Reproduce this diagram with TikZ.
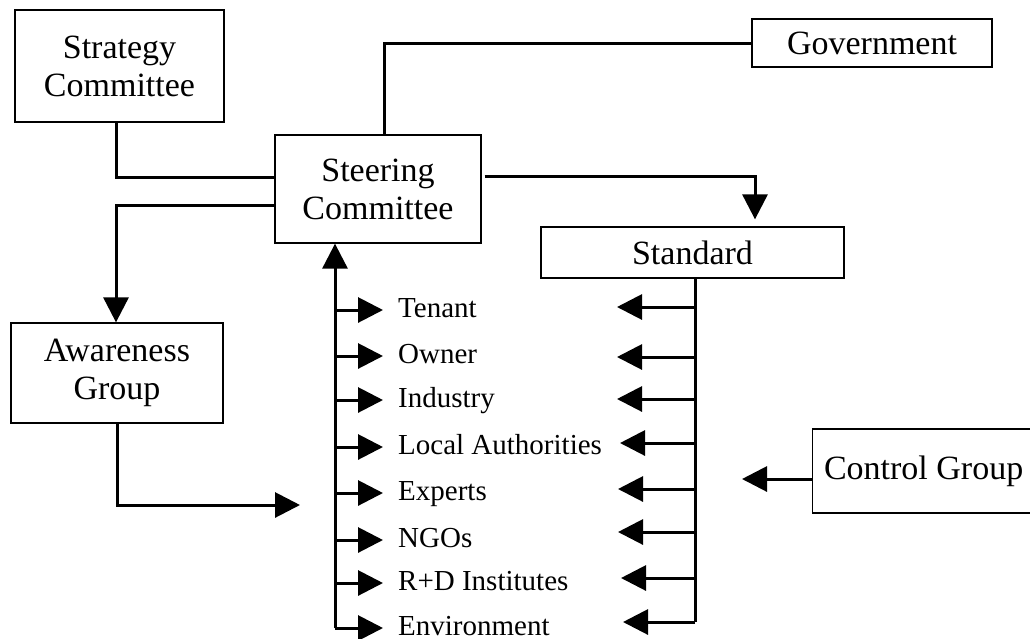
\documentclass[tikz,border=0pt]{standalone}
\usepackage{fontspec}
\setmainfont{Liberation Serif}
\usepackage{tikz}
\usetikzlibrary{arrows.meta}

\tikzset{
	box/.style={draw, line width=1.3pt, align=center, inner sep=0pt, font=\fontsize{34}{38}\selectfont},
	member/.style={anchor=west, inner sep=0pt, inner xsep=15pt, font=\fontsize{29}{32}\selectfont, text height=20pt, text depth=6pt},
	link/.style={line width=3pt},
	arr/.style={line width=3pt, -{Triangle[length=25pt,width=25pt]}}
}

\begin{document}
\begin{tikzpicture}[x=1pt, y=-1pt]
\useasboundingbox (0,0) rectangle (1030,638);
\clip (0,0) rectangle (1030,638);

% boxes
\node [box, minimum width=209pt, minimum height=112pt] (strat) at (119.5,66) {Strategy\\Committee};
\node [box, minimum width=206pt, minimum height=108pt] (steer) at (378,189) {Steering\\Committee};
\node [box, minimum width=240pt, minimum height=48pt] (gov) at (872,43) {Government};
\node [box, minimum width=303pt, minimum height=51pt] (std) at (692.5,252.5) {Standard};
\node [box, minimum width=212pt, minimum height=100pt] (aware) at (117,373) {Awareness\\Group};
\node [box, minimum width=222pt, minimum height=84pt, anchor=west] (ctrl) at (812,471) {Control Group};

% corners and free ends
\coordinate (c1) at (116,177);
\coordinate (c2) at (116,205);
\coordinate (c3) at (384,45);
\coordinate (c4) at (755,176);
\coordinate (aw) at (300,505);
\coordinate (ctip) at (742,479);
\coordinate (trunk) at (335,628);
\coordinate (rtrunk) at (695,622);

% member labels
\node [member] (ten) at (383,310) {Tenant};
\node [member] (own) at (383,356) {Owner};
\node [member] (ind) at (383,400) {Industry};
\node [member] (loc) at (383,447) {Local Authorities};
\node [member] (exp) at (383,493) {Experts};
\node [member] (ngo) at (383,540) {NGOs};
\node [member] (rnd) at (383,583) {R+D Institutes};
\node [member] (env) at (383,628) {Environment};

% right arrow tips
\coordinate (r1) at (617,307);
\coordinate (r2) at (617,357);
\coordinate (r3) at (617,399);
\coordinate (r4) at (620,443);
\coordinate (r5) at (618,489);
\coordinate (r6) at (618,532);
\coordinate (r7) at (621,578);
\coordinate (r8) at (623,622);

% connectors
\draw [link] (c1 |- strat.south) -- (c1) -- (c1 -| steer.west);
\draw [arr] (c2 -| steer.west) -| (aware.north -| c2);
\draw [link] (c3 |- steer.north) |- (gov.west);
\draw [arr, shorten >=7pt] (c4 -| steer.east) ++(3,0) -| (std.north -| c4);
\draw [arr] (aware.south) |- (aw);
\draw [arr] (ctrl.west |- ctip) -- (ctip);

\draw [arr] (trunk) -- (trunk |- steer.south);
\draw [arr] (ten.west -| trunk) -- (ten.west);
\draw [arr] (own.west -| trunk) -- (own.west);
\draw [arr] (ind.west -| trunk) -- (ind.west);
\draw [arr] (loc.west -| trunk) -- (loc.west);
\draw [arr] (exp.west -| trunk) -- (exp.west);
\draw [arr] (ngo.west -| trunk) -- (ngo.west);
\draw [arr] (rnd.west -| trunk) -- (rnd.west);
\draw [arr] (trunk) -- (env.west);

\draw [link] (rtrunk |- std.south) -- (rtrunk);
\draw [arr] (r1 -| rtrunk) -- (r1);
\draw [arr] (r2 -| rtrunk) -- (r2);
\draw [arr] (r3 -| rtrunk) -- (r3);
\draw [arr] (r4 -| rtrunk) -- (r4);
\draw [arr] (r5 -| rtrunk) -- (r5);
\draw [arr] (r6 -| rtrunk) -- (r6);
\draw [arr] (r7 -| rtrunk) -- (r7);
\draw [arr] (rtrunk) -- (r8);
\end{tikzpicture}
\end{document}
